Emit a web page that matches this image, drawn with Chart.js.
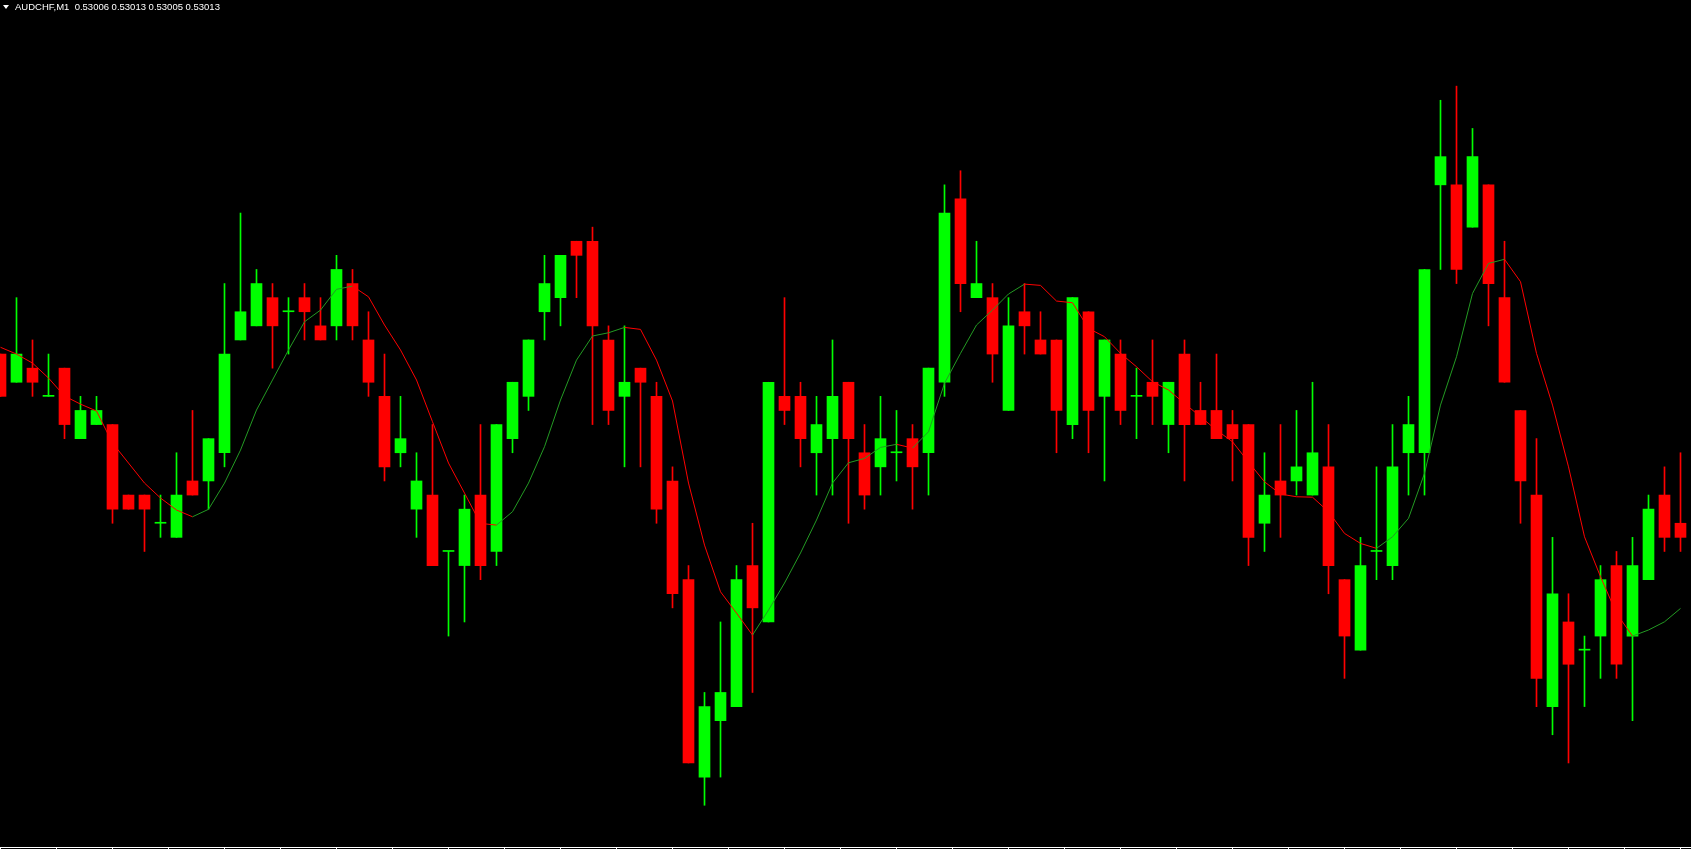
<!DOCTYPE html>
<html>
<head>
<meta charset="utf-8">
<title>AUDCHF,M1</title>
<script src="https://cdn.jsdelivr.net/npm/chart.js@4.4.1/dist/chart.umd.min.js"></script>
<style>
  html, body { margin: 0; padding: 0; background: #000; overflow: hidden; }
  #wrap { position: relative; width: 1691px; height: 849px; background: #000; }
  #caption {
    position: absolute; left: 15px; top: 1px;
    color: #fff; font-family: "Liberation Sans", Arial, sans-serif; font-size: 9.5px;
    line-height: 12px; white-space: pre;
  }
  #arrow {
    position: absolute; left: 3px; top: 5px; width: 0; height: 0;
    border-left: 3px solid transparent; border-right: 3px solid transparent; border-top: 4px solid #fff;
  }
</style>
</head>
<body>
<div id="wrap">
  <canvas id="priceChart"></canvas>
  <span id="arrow"></span>
  <div id="caption"></div>
</div>
<script>
// 標題: 商品與最新報價 (開 高 低 收)
const symbolName = 'AUDCHF,M1';
const lastQuote = [0.53006, 0.53013, 0.53005, 0.53013];

// K 棒資料 (由左至右, 每根一分鐘)
const openPrices = [
  0.53019, 0.53017, 0.53018, 0.53016, 0.53018, 0.53013, 0.53014, 0.53014, 0.53009, 0.53009,
  0.53007, 0.53006, 0.53010, 0.53010, 0.53012, 0.53020, 0.53021, 0.53023, 0.53022, 0.53023,
  0.53021, 0.53021, 0.53024, 0.53020, 0.53016, 0.53012, 0.53008, 0.53009, 0.53005, 0.53004,
  0.53009, 0.53005, 0.53013, 0.53016, 0.53022, 0.53023, 0.53027, 0.53027, 0.53020, 0.53016,
  0.53018, 0.53016, 0.53010, 0.53003, 0.52989, 0.52993, 0.52994, 0.53004, 0.53000, 0.53016,
  0.53016, 0.53012, 0.53013, 0.53017, 0.53012, 0.53011, 0.53012, 0.53013, 0.53012, 0.53017,
  0.53030, 0.53023, 0.53023, 0.53015, 0.53022, 0.53020, 0.53020, 0.53014, 0.53022, 0.53016,
  0.53019, 0.53016, 0.53017, 0.53014, 0.53019, 0.53015, 0.53015, 0.53014, 0.53014, 0.53007,
  0.53010, 0.53010, 0.53009, 0.53011, 0.53003, 0.52998, 0.53005, 0.53004, 0.53012, 0.53012,
  0.53031, 0.53031, 0.53028, 0.53031, 0.53023, 0.53015, 0.53009, 0.52994, 0.53000, 0.52998,
  0.52999, 0.53004, 0.52999, 0.53003, 0.53009, 0.53007
];
const highPrices = [
  0.53019, 0.53023, 0.53020, 0.53019, 0.53018, 0.53016, 0.53016, 0.53014, 0.53009, 0.53009,
  0.53009, 0.53012, 0.53015, 0.53013, 0.53024, 0.53029, 0.53025, 0.53024, 0.53023, 0.53024,
  0.53023, 0.53026, 0.53025, 0.53022, 0.53019, 0.53016, 0.53012, 0.53014, 0.53005, 0.53009,
  0.53014, 0.53014, 0.53017, 0.53020, 0.53026, 0.53026, 0.53027, 0.53028, 0.53021, 0.53021,
  0.53018, 0.53017, 0.53011, 0.53004, 0.52995, 0.53000, 0.53004, 0.53007, 0.53017, 0.53023,
  0.53017, 0.53016, 0.53020, 0.53017, 0.53014, 0.53016, 0.53015, 0.53014, 0.53018, 0.53031,
  0.53032, 0.53027, 0.53024, 0.53023, 0.53024, 0.53022, 0.53020, 0.53023, 0.53022, 0.53020,
  0.53020, 0.53018, 0.53020, 0.53017, 0.53020, 0.53017, 0.53019, 0.53015, 0.53014, 0.53012,
  0.53014, 0.53015, 0.53017, 0.53014, 0.53003, 0.53006, 0.53011, 0.53014, 0.53016, 0.53025,
  0.53037, 0.53038, 0.53035, 0.53031, 0.53027, 0.53015, 0.53013, 0.53006, 0.53002, 0.52999,
  0.53004, 0.53005, 0.53006, 0.53009, 0.53011, 0.53012
];
const lowPrices = [
  0.53016, 0.53017, 0.53016, 0.53016, 0.53013, 0.53013, 0.53014, 0.53007, 0.53008, 0.53005,
  0.53006, 0.53006, 0.53009, 0.53008, 0.53011, 0.53020, 0.53021, 0.53018, 0.53019, 0.53020,
  0.53020, 0.53020, 0.53020, 0.53016, 0.53010, 0.53011, 0.53006, 0.53004, 0.52999, 0.53000,
  0.53003, 0.53004, 0.53012, 0.53015, 0.53020, 0.53021, 0.53023, 0.53014, 0.53014, 0.53011,
  0.53011, 0.53007, 0.53001, 0.52990, 0.52987, 0.52989, 0.52994, 0.52995, 0.53000, 0.53014,
  0.53011, 0.53009, 0.53009, 0.53007, 0.53008, 0.53009, 0.53010, 0.53008, 0.53009, 0.53016,
  0.53022, 0.53023, 0.53017, 0.53015, 0.53019, 0.53019, 0.53012, 0.53013, 0.53012, 0.53010,
  0.53014, 0.53013, 0.53014, 0.53012, 0.53010, 0.53014, 0.53013, 0.53010, 0.53004, 0.53005,
  0.53006, 0.53009, 0.53009, 0.53002, 0.52996, 0.52998, 0.53003, 0.53003, 0.53009, 0.53009,
  0.53025, 0.53024, 0.53028, 0.53021, 0.53017, 0.53007, 0.52994, 0.52992, 0.52990, 0.52994,
  0.52996, 0.52996, 0.52993, 0.53003, 0.53005, 0.53005
];
const closePrices = [
  0.53016, 0.53019, 0.53017, 0.53016, 0.53014, 0.53015, 0.53015, 0.53008, 0.53008, 0.53008,
  0.53007, 0.53009, 0.53009, 0.53013, 0.53019, 0.53022, 0.53024, 0.53021, 0.53022, 0.53022,
  0.53020, 0.53025, 0.53021, 0.53017, 0.53011, 0.53013, 0.53010, 0.53004, 0.53005, 0.53008,
  0.53004, 0.53014, 0.53017, 0.53020, 0.53024, 0.53026, 0.53026, 0.53021, 0.53015, 0.53017,
  0.53017, 0.53008, 0.53002, 0.52990, 0.52994, 0.52995, 0.53003, 0.53001, 0.53017, 0.53015,
  0.53013, 0.53014, 0.53016, 0.53013, 0.53009, 0.53013, 0.53012, 0.53011, 0.53018, 0.53029,
  0.53024, 0.53024, 0.53019, 0.53021, 0.53021, 0.53019, 0.53015, 0.53023, 0.53015, 0.53020,
  0.53015, 0.53016, 0.53016, 0.53017, 0.53014, 0.53014, 0.53013, 0.53013, 0.53006, 0.53009,
  0.53009, 0.53011, 0.53012, 0.53004, 0.52999, 0.53004, 0.53005, 0.53011, 0.53014, 0.53025,
  0.53033, 0.53025, 0.53033, 0.53024, 0.53017, 0.53010, 0.52996, 0.53002, 0.52997, 0.52998,
  0.53003, 0.52997, 0.53004, 0.53008, 0.53006, 0.53006
];

// 均線 (依走向變色)
const maValues = [
  0.5301948, 0.5301900, 0.5301836, 0.5301730, 0.5301602, 0.5301545, 0.5301496, 0.5301269, 0.5301127, 0.5300985,
  0.5300879, 0.5300794, 0.5300746, 0.5300799, 0.5300985, 0.5301219, 0.5301503, 0.5301716, 0.5301929, 0.5302129,
  0.5302212, 0.5302359, 0.5302382, 0.5302306, 0.5302106, 0.5301929, 0.5301716, 0.5301420, 0.5301127, 0.5300914,
  0.5300699, 0.5300687, 0.5300782, 0.5300985, 0.5301243, 0.5301574, 0.5301857, 0.5302028, 0.5302051, 0.5302089,
  0.5302075, 0.5301857, 0.5301567, 0.5300985, 0.5300545, 0.5300214, 0.5300063, 0.5299907, 0.5300084, 0.5300276,
  0.5300489, 0.5300723, 0.5300985, 0.5301129, 0.5301160, 0.5301238, 0.5301260, 0.5301233, 0.5301349, 0.5301692,
  0.5301905, 0.5302106, 0.5302212, 0.5302326, 0.5302396, 0.5302387, 0.5302276, 0.5302264, 0.5302082, 0.5302023,
  0.5301905, 0.5301810, 0.5301704, 0.5301645, 0.5301550, 0.5301455, 0.5301361, 0.5301278, 0.5301134, 0.5300994,
  0.5300907, 0.5300888, 0.5300885, 0.5300782, 0.5300628, 0.5300557, 0.5300522, 0.5300604, 0.5300735, 0.5301054,
  0.5301538, 0.5301881, 0.5302330, 0.5302543, 0.5302572, 0.5302413, 0.5301905, 0.5301538, 0.5301100, 0.5300604,
  0.5300321, 0.5300061, 0.5299900, 0.5299943, 0.5300001, 0.5300096
];

const COLORS = { up: '#00ff00', down: '#ff0000', maUp: '#239a23', axis: '#ffffff' };

document.getElementById('caption').textContent =
  symbolName + '  ' + lastQuote.map(v => v.toFixed(5)).join(' ');

function renderPriceChart() {
  const canvas = document.getElementById('priceChart');
  const idx = closePrices.map((_, i) => i);
  const candleColors = idx.map(i => closePrices[i] >= openPrices[i] ? COLORS.up : COLORS.down);

  new Chart(canvas, {
    type: 'bar',
    data: {
      datasets: [
        {
          type: 'line',
          label: 'MA',
          data: idx.map(i => ({ x: i, y: maValues[i] })),
          borderColor: COLORS.maUp,
          borderWidth: 1,
          pointRadius: 0,
          tension: 0,
          segment: {
            borderColor: c => c.p1.parsed.y < c.p0.parsed.y ? COLORS.down : COLORS.maUp
          },
          order: 0
        },
        {
          label: '實體',
          data: idx.map(i => ({ x: i, y: [openPrices[i], closePrices[i]] })),
          backgroundColor: candleColors,
          borderWidth: 0,
          barThickness: 11,
          minBarLength: 1,
          grouped: false,
          order: 1
        },
        {
          label: '影線',
          data: idx.map(i => ({ x: i, y: [lowPrices[i], highPrices[i]] })),
          backgroundColor: candleColors,
          borderWidth: 0,
          barThickness: 1,
          grouped: false,
          order: 2
        }
      ]
    },
    options: {
      responsive: true,
      maintainAspectRatio: false,
      animation: false,
      events: [],
      layout: { padding: 0 },
      plugins: {
        legend: { display: false },
        tooltip: { enabled: false }
      },
      scales: {
        x: {
          type: 'linear',
          min: -0.03125,
          max: 105.65625,
          bounds: 'data',
          offset: false,
          ticks: { display: false, stepSize: 3.5, includeBounds: false },
          grid: { display: true, drawOnChartArea: false, drawTicks: true, tickLength: 2, color: COLORS.axis, offset: false },
          border: { display: true, color: COLORS.axis, width: 1 }
        },
        y: {
          type: 'linear',
          display: false,
          min: 0.5298404,
          max: 0.5304411,
          bounds: 'data',
          beginAtZero: false
        }
      }
    }
  });
}

renderPriceChart();
</script>
</body>
</html>
